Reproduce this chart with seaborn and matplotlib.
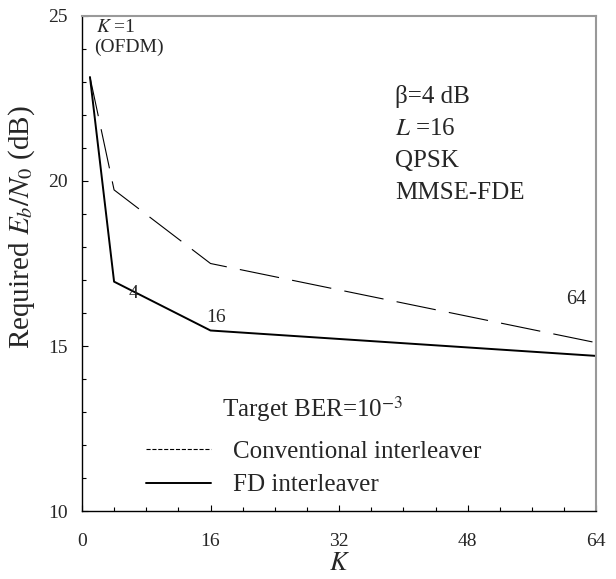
import matplotlib
matplotlib.use("Agg")
import matplotlib.pyplot as plt
from matplotlib.lines import Line2D
from matplotlib.ticker import MultipleLocator
import seaborn as sns
import pandas as pd

# data
K = [1, 4, 16, 64]
conv_eb = [23.15, 19.73, 17.5, 15.1]
fd_eb = [23.15, 16.95, 15.47, 14.7]

sns.set_theme(style="white")
plt.rcParams['font.family'] = ['Liberation Serif', 'DejaVu Serif']
plt.rcParams['mathtext.fontset'] = 'stix'

df = pd.DataFrame({'K': K + K,
                   'Eb': conv_eb + fd_eb,
                   'scheme': ['conv'] * 4 + ['fd'] * 4})

fig = plt.figure(figsize=(6.16, 5.79), dpi=100)
ax = fig.add_axes([0.133, 0.1174, 0.835, 0.855])

sns.lineplot(data=df[df.scheme == 'conv'], x='K', y='Eb', ax=ax,
             color='black', linewidth=0.8)
ax.lines[-1].set_dashes([36, 12])
sns.lineplot(data=df[df.scheme == 'fd'], x='K', y='Eb', ax=ax,
             color='black', linewidth=1.4)

ax.set_xlim(0, 64)
ax.set_ylim(10, 25)
ax.xaxis.set_major_locator(MultipleLocator(16))
ax.xaxis.set_minor_locator(MultipleLocator(4))
ax.yaxis.set_major_locator(MultipleLocator(5))
ax.yaxis.set_minor_locator(MultipleLocator(1))
ax.tick_params(which='both', direction='in', length=4, width=0.8,
               color='black', labelsize=14, bottom=True, left=True,
               top=False, right=False)
ax.tick_params(axis='x', pad=16)
ax.tick_params(axis='y', pad=10)
ax.tick_params(which='minor', length=3)

for s in ['top', 'right']:
    ax.spines[s].set_color('#999999')
    ax.spines[s].set_linewidth(1.5)
for s in ['left', 'bottom']:
    ax.spines[s].set_color('black')
    ax.spines[s].set_linewidth(1.0)

ax.set_xlabel('$K$', fontsize=19, labelpad=2)
ax.set_ylabel('Required $E_b/N_0$ (dB)', fontsize=21)
ax.yaxis.set_label_coords(-0.088, 0.574)

# annotations
ax.text(1.8, 24.4, '$K$ =1', fontsize=14, va='bottom')
ax.text(1.5, 23.8, '(OFDM)', fontsize=14, va='bottom')
ax.text(5.8, 16.6, '4', fontsize=14, va='center')
ax.text(15.5, 15.85, '16', fontsize=14, va='center')
ax.text(60.3, 16.4, '64', fontsize=14.5, va='center')

props = ['β=4 dB', '$L$ =16', 'QPSK', 'MMSE-FDE']
for i, t in enumerate(props):
    ax.text(39.0, 22.55 - i * 0.97, t, fontsize=18, va='center')

ax.text(17.4, 13.1, 'Target BER=10$^{-3}$', fontsize=18, va='center')

handles = [Line2D([], [], color='black', linewidth=0.8, linestyle='--'),
           Line2D([], [], color='black', linewidth=1.4)]
ax.legend(handles, ['Conventional interleaver', 'FD interleaver'],
          loc='lower left', bbox_to_anchor=(0.08, -0.016), frameon=False,
          fontsize=18, handlelength=2.6, handletextpad=0.9, labelspacing=0.45)

fig.savefig('out.png', dpi=100)
